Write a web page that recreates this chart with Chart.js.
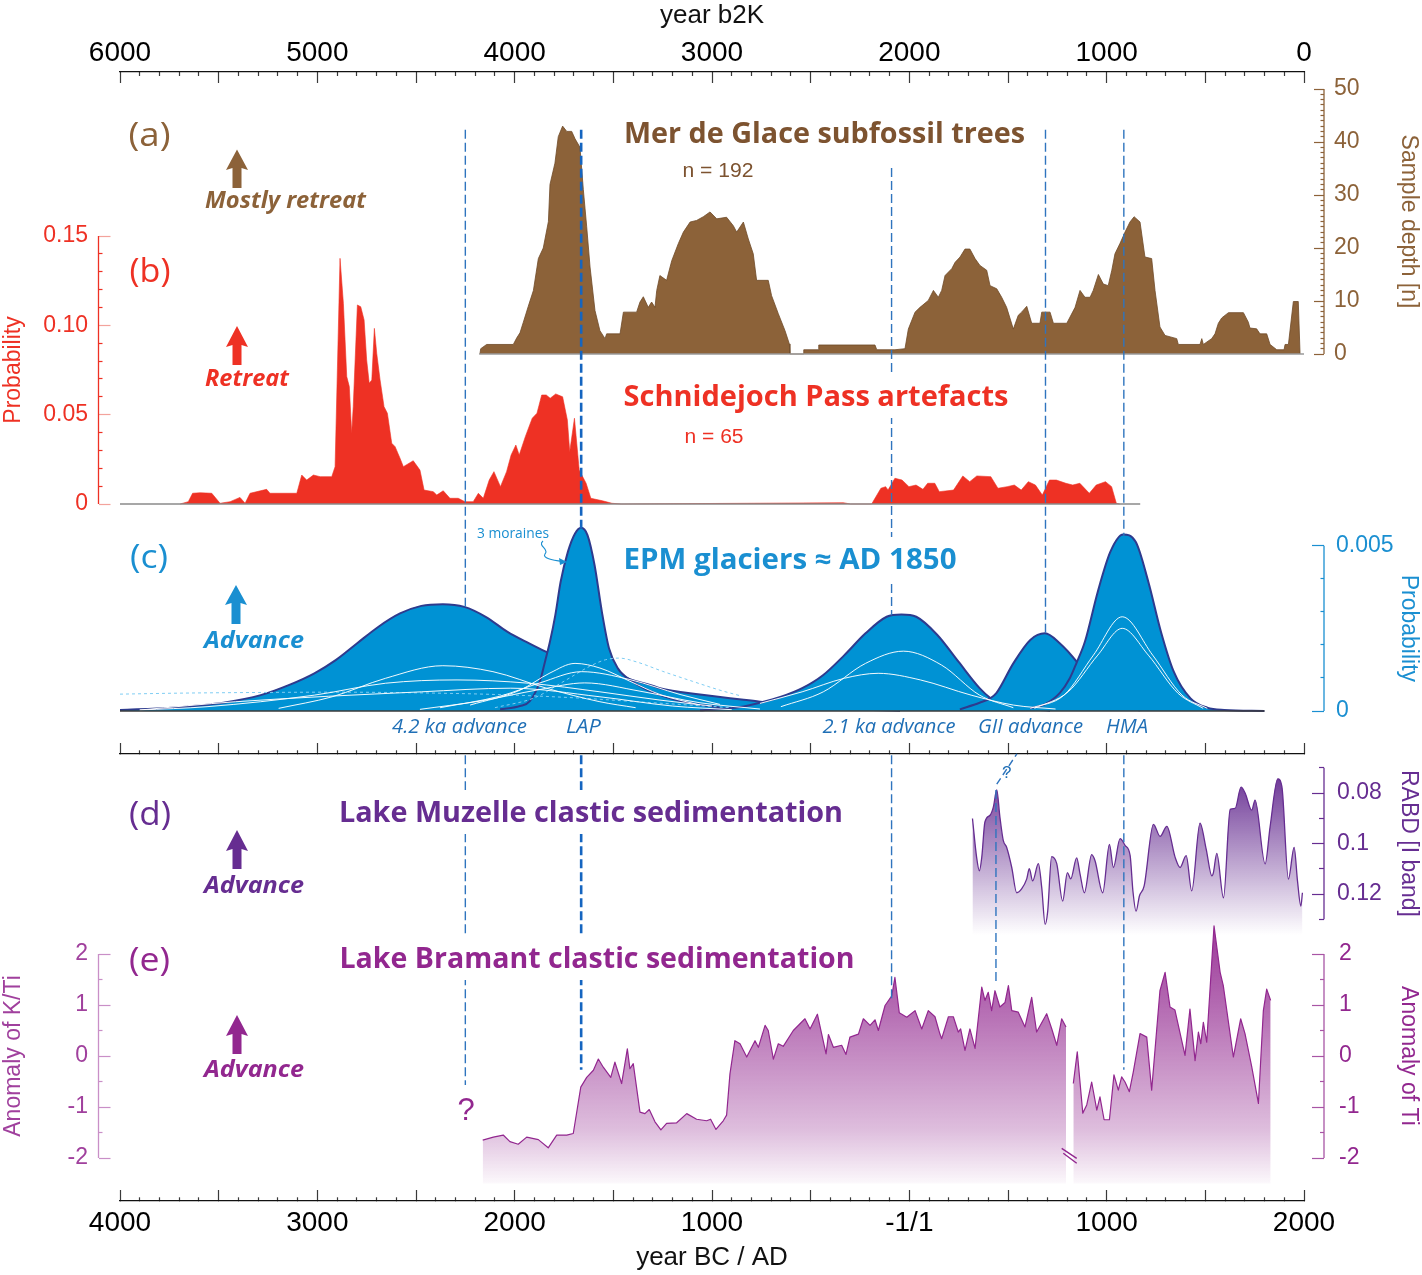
<!DOCTYPE html>
<html><head><meta charset="utf-8"><title>Glacier records</title>
<script src="https://cdn.jsdelivr.net/npm/chart.js@4.4.1/dist/chart.umd.min.js"></script>
<style>
html,body{margin:0;padding:0;background:#fff;}
#wrap{position:relative;width:1422px;height:1275px;overflow:hidden;background:#fff;}
#wrap canvas{position:absolute;left:0;top:0;}
</style></head>
<body><div id="wrap">
<canvas id="cFrame" width="1422" height="1275"></canvas>
<canvas id="cMid" width="1422" height="1275"></canvas>
<canvas id="cA" width="1422" height="1275"></canvas>
<canvas id="cB" width="1422" height="1275"></canvas>
<canvas id="cD" width="1422" height="1275"></canvas>
<canvas id="cE" width="1422" height="1275"></canvas>
<canvas id="cC" width="1422" height="1275"></canvas>
<canvas id="cG" width="1422" height="1275"></canvas>
</div>
<script>
// ================= DATA (years BC/AD, negative = BC) =================
// (a) Mer de Glace subfossil trees: sample depth
const merYears = [-2176,-2172,-2142,-2007,-1990,-1973,-1956,-1931,-1905,-1880,-1855,-1829,-1821,-1796,-1779,-1757,-1736,-1711,-1694,-1669,-1652,-1635,-1618,-1593,-1568,-1542,-1534,-1466,-1449,-1382,-1365,-1348,-1323,-1306,-1289,-1280,-1264,-1230,-1204,-1171,-1145,-1111,-1078,-1044,-1010,-976,-926,-892,-875,-841,-816,-791,-774,-715,-698,-664,-630,-608,-605,-537,-535,-461,-459,-174,-165,-73,-22,-5,29,54,96,122,147,164,181,215,232,257,282,307,333,358,392,409,443,468,493,527,552,569,595,620,662,671,713,730,798,840,865,890,916,932,958,983,1008,1026,1042,1068,1093,1118,1139,1169,1194,1228,1245,1270,1296,1355,1363,1473,1482,1490,1532,1549,1566,1583,1617,1693,1718,1726,1760,1777,1811,1828,1862,1899,1904,1921,1946,1971,1980];
const merDepth = [0,1,1.8,1.8,3,4,6,9,12,18,20,25,32,36,41,43,42,42,40.6,39,31,24,16.4,8.2,4.4,2.9,3.8,3.8,7.9,7.9,9.8,10.8,8.8,9.8,8.8,12,14.8,13.9,17.6,20.8,23,24.9,25.2,25.9,26.8,25.5,25.8,24.2,23,24.9,21.7,18.9,13.9,13.9,11,7.6,4.4,1.9,0,0,0.8,0.8,1.7,1.7,0.8,0.8,1,4.7,7.9,8.8,10.1,12,10.7,12,14.8,16.1,17.3,18.3,19.8,19.8,18,16.7,15.8,12.9,12.3,10.7,8.8,4.7,7.3,7.9,9,5.8,5.8,7.9,7.9,5.8,5.8,8.8,12,10.7,10.7,12,15,13.2,12.9,15.8,18.9,20.9,23,24.9,25.9,24.9,18.3,18,12,5.1,3.5,2.9,1.8,1.8,2.9,1.8,2.9,3.8,5.8,6.8,7.8,7.8,6,4.9,4.75,3.8,3.8,1.8,0.8,0.8,1.8,1.8,9.9,9.9,0];

// (b) Schnidejoch Pass artefacts: summed probability
const schYears = [-3695,-3654,-3632,-3594,-3535,-3493,-3442,-3392,-3366,-3341,-3257,-3240,-3104,-3079,-3054,-3020,-2986,-2927,-2910,-2885,-2868,-2851,-2838,-2826,-2818,-2797,-2780,-2763,-2750,-2737,-2724,-2711,-2699,-2682,-2662,-2645,-2623,-2606,-2581,-2564,-2514,-2480,-2459,-2412,-2395,-2362,-2328,-2286,-2252,-2210,-2184,-2159,-2129,-2105,-2072,-2041,-2018,-1994,-1977,-1946,-1911,-1887,-1863,-1840,-1820,-1792,-1757,-1733,-1721,-1697,-1673,-1638,-1614,-1555,-1507,-1460,-334,-298,-191,-144,-120,-108,-73,-37,-2,34,69,93,129,152,224,271,306,342,413,449,496,532,567,603,639,674,710,745,793,828,864,912,947,994,1025,1049,1066];
const schProb = [0,0.0013,0.006,0.0063,0.006,0.0004,0.0013,0.0037,0.0004,0.006,0.0082,0.006,0.006,0.0162,0.0134,0.0162,0.0153,0.0153,0.0209,0.1375,0.1123,0.0713,0.0657,0.0396,0.0545,0.1114,0.1104,0.103,0.0806,0.0676,0.0694,0.0983,0.0843,0.0694,0.0545,0.0508,0.034,0.0321,0.0256,0.0209,0.0242,0.019,0.0078,0.0069,0.005,0.0074,0.0032,0.0032,0.0013,0.0013,0.006,0.0032,0.0134,0.0181,0.0097,0.0181,0.0274,0.033,0.0274,0.0377,0.048,0.0508,0.061,0.061,0.0592,0.0616,0.06,0.047,0.0293,0.048,0.019,0.0116,0.0032,0.0018,0.0004,0,0.0007,0,0,0.0088,0.0097,0.0078,0.0144,0.0134,0.0097,0.0106,0.0082,0.0116,0.0116,0.0069,0.0078,0.0157,0.0125,0.0157,0.0153,0.0088,0.0097,0.0106,0.0078,0.0125,0.0106,0.005,0.0134,0.0134,0.0116,0.0106,0.0116,0.006,0.0106,0.0125,0.0097,0.0004,0];

// (c) EPM glaciers: grouped probability envelopes
const g42Years = [-4000,-3740,-3468,-3287,-3142,-3015,-2907,-2798,-2690,-2581,-2473,-2364,-2255,-2147,-2038,-1929,-1848,-1745,-1618,-1477,-1405,-1314,-1264,-1061,-757,-554,-301,-47];
const g42Prob = [0.00003,0.0001,0.00026,0.00048,0.00079,0.00114,0.00154,0.00205,0.00255,0.00295,0.00318,0.00323,0.00315,0.00285,0.0024,0.00205,0.00181,0.00155,0.0013,0.0011,0.00094,0.00079,0.00069,0.0005,0.00028,0.00014,0.00005,0.00001];
const gLapYears = [-2074,-1973,-1923,-1872,-1846,-1821,-1794,-1767,-1730,-1694,-1663,-1631,-1595,-1558,-1522,-1477,-1405,-1314,-1162,-960];
const gLapProb = [0.00005,0.00015,0.0003,0.0009,0.0015,0.0021,0.0029,0.00391,0.00482,0.00537,0.00554,0.00532,0.00441,0.003,0.0019,0.00129,0.0009,0.0006,0.0003,0.0001];
const g21Years = [-1061,-858,-757,-650,-543,-436,-329,-222,-115,-40,35,142,249,356,409,459,561,713];
const g21Prob = [0.00002,0.00012,0.00025,0.00043,0.00069,0.00109,0.00169,0.00235,0.00285,0.00292,0.00285,0.0023,0.00149,0.00069,0.0004,0.00025,0.00008,0.00001];
const gGIIYears = [256,356,409,441,527,613,687,762,848,916,992,1068,1169];
const gGIIProb = [0.00005,0.00025,0.00038,0.00054,0.00144,0.00215,0.00235,0.00205,0.00149,0.0009,0.0004,0.00012,0.00002];
const gHMAYears = [612,686,763,814,847,890,955,1019,1083,1147,1211,1275,1340,1425,1510,1596,1799];
const gHMAProb = [0.00008,0.0002,0.00055,0.001,0.00145,0.0021,0.00361,0.00482,0.00534,0.00512,0.00391,0.0024,0.00119,0.00038,0.0001,0.00003,0];
// (c) individual moraine ages (white) and dotted ones
const wAYears = [-3196,-2925,-2654,-2364,-2110,-1839,-1568,-1387];
const wAProb = [0.00008,0.00043,0.00099,0.00137,0.00119,0.00069,0.00028,0.0001];
const wBYears = [-3900,-3559,-3015,-2654,-2292,-1929,-1568,-1264,-1000];
const wBProb = [0.00003,0.00013,0.00048,0.00084,0.00094,0.00084,0.00058,0.00033,0.00015];
const wCYears = [-3900,-3414,-2473,-2020,-1568,-1200,-900];
const wCProb = [0.00003,0.00028,0.00058,0.00069,0.00043,0.00015,0.00004];
const wDYears = [-2226,-1973,-1821,-1694,-1568,-1416,-1264,-1061];
const wDProb = [0.00018,0.00063,0.00115,0.00144,0.0013,0.0009,0.0005,0.00018];
const wEYears = [-2378,-2074,-1872,-1660,-1416,-1162,-960];
const wEProb = [0.0001,0.00045,0.00085,0.00119,0.00095,0.0005,0.0002];
const wFYears = [-2480,-2176,-1872,-1645,-1365,-1061,-757];
const wFProb = [0.00005,0.0003,0.00065,0.00085,0.0006,0.00025,0.00006];
const wGYears = [-651,-436,-222,-30,163,356,527];
const wGProb = [0.00013,0.00058,0.00144,0.00181,0.00139,0.00048,0.0001];
const wHYears = [-757,-543,-329,-158,56,313,527,741];
const wHProb = [0.00023,0.00058,0.00099,0.00114,0.00094,0.00048,0.00018,0.00006];
const wIYears = [613,784,933,1079,1233,1382,1510];
const wIProb = [0.00008,0.00048,0.00169,0.00285,0.00169,0.00048,0.00008];
const wJYears = [634,805,955,1079,1211,1361,1489];
const wJProb = [0.00008,0.00058,0.00169,0.0025,0.00169,0.00054,0.00008];
const dot1Years = [-4000,-3700,-3300,-2900,-2500,-2100,-1700,-1300,-900];
const dot1Prob = [0.00051,0.00054,0.00056,0.00057,0.00055,0.0005,0.0004,0.00025,0.0001];
const dot2Years = [-2100,-1900,-1750,-1620,-1540,-1470,-1380,-1250,-1100,-960,-850];
const dot2Prob = [0.0001,0.0004,0.0009,0.00135,0.00155,0.0016,0.00148,0.0012,0.0009,0.00063,0.00045];

// (d) Lake Muzelle RABD
const muzYears = [320,341,355,367,383,409,426,443,459,476,493,519,544,569,595,608,625,654,671,688,701,721,747,777,801,818,848,865,887,924,941,980,1014,1034,1068,1094,1119,1133,1149,1166,1190,1237,1271,1305,1347,1372,1403,1431,1473,1504,1533,1541,1558,1592,1626,1651,1681,1702,1735,1752,1803,1828,1867,1888,1921,1950,1967,1984,1992];
const muzRabd = [0.0901,0.1055,0.1108,0.1055,0.0915,0.0888,0.0855,0.0788,0.0895,0.0988,0.1015,0.1095,0.1195,0.118,0.114,0.110,0.1148,0.108,0.1175,0.132,0.127,0.1052,0.108,0.1228,0.1115,0.114,0.1057,0.112,0.1195,0.1044,0.1068,0.1195,0.1004,0.1095,0.0981,0.1008,0.1048,0.1188,0.1268,0.1208,0.1168,0.0924,0.0972,0.0932,0.1055,0.1095,0.1048,0.1188,0.0919,0.1021,0.1128,0.1115,0.1039,0.1215,0.0865,0.0861,0.0777,0.0801,0.0868,0.0828,0.1081,0.0935,0.0744,0.0775,0.1141,0.1015,0.1148,0.1248,0.1195];

// (e) Lake Bramant K/Ti anomaly (older part) and Ti anomaly (recent part)
const braYears1 = [-2162,-2108,-2058,-2024,-1982,-1939,-1880,-1830,-1787,-1736,-1703,-1665,-1635,-1601,-1576,-1551,-1513,-1492,-1458,-1429,-1416,-1399,-1365,-1340,-1318,-1289,-1259,-1230,-1179,-1128,-1078,-1027,-1007,-980,-943,-926,-909,-884,-858,-824,-782,-765,-731,-715,-689,-664,-639,-588,-529,-503,-466,-444,-422,-410,-385,-343,-321,-301,-258,-233,-199,-174,-157,-123,-89,-73,-51,-13,29,63,96,130,155,164,198,223,248,260,282,307,333,367,383,400,417,434,459,485,502,519,552,586,620,645,696,722,747,772,794];
const braAnom1 = [-1.65,-1.59,-1.55,-1.68,-1.73,-1.59,-1.64,-1.80,-1.55,-1.55,-1.52,-0.61,-0.42,-0.28,-0.06,-0.22,-0.42,-0.12,-0.54,0.14,-0.25,-0.15,-1.10,-1.13,-1.05,-1.29,-1.45,-1.32,-1.31,-1.13,-1.24,-1.27,-1.24,-1.44,-1.27,-1.16,-0.35,0.30,0.24,-0.02,0.30,0.17,0.60,0.50,-0.06,0.24,0.19,0.50,0.73,0.53,0.82,0.43,0.04,0.42,0.17,0.21,0.03,0.37,0.43,0.73,0.60,0.71,0.50,0.99,1.18,1.54,0.85,0.76,0.89,0.53,0.89,0.77,0.43,0.34,0.77,0.77,0.47,0.53,0.11,0.53,0.15,1.35,1.09,1.25,0.89,1.28,0.96,1.05,1.38,0.89,0.86,0.57,1.15,0.47,0.83,0.53,0.21,0.73,0.57];
const braYears2 = [831,851,879,899,924,950,966,987,1014,1037,1059,1076,1093,1115,1135,1169,1203,1228,1270,1296,1321,1346,1397,1422,1448,1465,1477,1490,1507,1544,1575,1591,1642,1679,1701,1735,1769,1794,1811,1831];
const braAnom2 = [-0.54,0.08,-1.12,-0.96,-0.51,-1.06,-0.80,-1.25,-1.25,-0.37,-0.67,-0.41,-0.51,-0.70,-0.31,0.44,0.37,-0.67,1.28,1.64,0.96,0.90,0.01,0.92,-0.09,0.47,0.24,0.66,0.27,2.55,1.64,1.38,-0.02,0.73,0.44,-0.21,-0.93,0.89,1.31,1.09];

// event lines (years) and their vertical reach, in panel value units
const EVENTS = [
  {name:'4.2 ka', year:-2250, heavy:false, segs:[['a',42.3,'c',0.00315],['d',0.065,'e',-0.57]]},
  {name:'LAP',    year:-1663, heavy:true,  segs:[['a',42.3,'c',0.0055],['d',0.065,'e',-0.27]]},
  {name:'2.1 ka', year:-90,   heavy:false, segs:[['a',35.1,'c',0.0029],['d',0.065,'e',1.1]]},
  {name:'GII',    year:690,   heavy:false, segs:[['a',42.3,'c',0.00235]]},
  {name:'HMA',    year:1087,  heavy:false, segs:[['a',42.3,'c',0.0053],['d',0.065,'e',-0.27]]},
  {name:'?',      year:439,   heavy:false, segs:[['d',0.0788,'e',1.4]]}
];
const SLANT = [[443,'d',0.0765],[545,'d',0.0645]];

// ================= LAYOUT =================
Chart.defaults.font.family = "'Liberation Sans', Arial, sans-serif";
const W = 1422, H = 1275;
const GEOM = {x0px:120, x1px:1304, yr0:-4000, yr1:2000, areaL:98.5, areaR:1324};
const PPY = (GEOM.x1px - GEOM.x0px) / (GEOM.yr1 - GEOM.yr0);
const XMIN = GEOM.yr0 - (GEOM.x0px - GEOM.areaL) / PPY;
const XMAX = GEOM.yr1 + (GEOM.areaR - GEOM.x1px) / PPY;
const PANEL = {
  a:{v0:0, p0:354, v1:50, p1:89, top:80, bottom:363},
  b:{v0:0, p0:504, v1:0.15, p1:236, top:226, bottom:514},
  c:{v0:0, p0:711, v1:0.005, p1:545.7, top:518, bottom:738.7},
  d:{v0:0.08, p0:793, v1:0.12, p1:894, top:752, bottom:935},
  e:{v0:-2, p0:1158, v1:2, p1:954, top:915, bottom:1197}
};
const COL = {brown:'#8C6239', brownTxt:'#7D5330', red:'#EE3124', blue:'#1A8FD1', blueFill:'#0092D4', blueLine:'#2E3B8E', blueIt:'#1F6FB6', purple:'#662D91', mag:'#92278F', guide:'#2F74BE', guideHeavy:'#1565C0'};

function pts(xs, ys){ return xs.map((x,i)=>({x:x, y:ys[i]})); }
function steps(lo,hi,st){ const n=Math.round((hi-lo)/st); const a=[]; for(let i=0;i<=n;i++) a.push(+(lo+i*st).toFixed(6)); return a; }
function isMul(v,m){ const r=v/m; return Math.abs(r-Math.round(r))<1e-6; }
function span(a){ const k=(a.v1-a.v0)/(a.p1-a.p0); const vt=a.v0+(a.top-a.p0)*k, vb=a.v0+(a.bottom-a.p0)*k; return {min:Math.min(vt,vb), max:Math.max(vt,vb)}; }

const axisLinePlugin = {
  id:'axisLine',
  afterDraw(chart, args, opts){
    const ctx = chart.ctx;
    (opts.lines||[]).forEach(l=>{
      const s = chart.scales[l.scale];
      const x = s.position==='left' ? s.right : s.left;
      ctx.save(); ctx.strokeStyle=l.color; ctx.lineWidth=l.width||1.3;
      ctx.beginPath(); ctx.moveTo(x, s.getPixelForValue(l.from)); ctx.lineTo(x, s.getPixelForValue(l.to)); ctx.stroke();
      ctx.restore();
    });
  }
};

function yAxis(o){
  const left = o.pos==='left';
  return {
    type:'linear', position:o.pos, min:o.min, max:o.max, reverse:!!o.reverse,
    afterFit(s){ s.width = left ? GEOM.areaL : W - GEOM.areaR; },
    afterBuildTicks(s){ s.ticks = steps(o.lo,o.hi,o.step).map(v=>({value:v})); },
    border:{display:false},
    grid:{
      drawOnChartArea:false, drawTicks:true, tickLength:-o.majLen, tickWidth:1.2,
      tickColor:c=> isMul(c.tick.value,o.major) ? (o.majColor||o.color) : o.color,
      tickBorderDash:c=> isMul(c.tick.value,o.major) ? [] : (left ? [o.minLen, o.majLen-o.minLen] : [o.minLen, 100]),
      tickBorderDashOffset:c=> (left && !isMul(c.tick.value,o.major)) ? o.minLen : 0
    },
    ticks:{display:true, autoSkip:false, padding:o.pad, color:o.labelColor||o.color, font:{size:23},
      callback:v=> isMul(v,o.major) ? o.fmt(v) : ''},
    title:{display:true, text:o.title, color:o.titleColor||o.labelColor||o.color, font:{size:23}, padding:{top:0,bottom:0}}
  };
}

function baseOpts(padding, yScales, lines){
  return {
    animation:false, responsive:false, events:[],
    layout:{padding:padding},
    elements:{point:{radius:0, hoverRadius:0}, line:{borderJoinStyle:'round'}},
    plugins:{legend:{display:false}, tooltip:{enabled:false}, axisLine:{lines:lines}},
    scales:Object.assign({x:{type:'linear', display:false, min:XMIN, max:XMAX}}, yScales)
  };
}
const charts = {};

// ---------- frame (top b2K axis, bottom BC/AD axis) ----------
function xAxis(o){
  return {
    type:'linear', position:o.pos, min:o.min, max:o.max, reverse:!!o.reverse,
    afterFit(s){ s.height = o.height; },
    afterBuildTicks(s){ s.ticks = steps(o.min,o.max,100).map(v=>({value:v})); },
    border:{display:true, color:'#111', width:1.3},
    grid:{drawOnChartArea:false, drawTicks:true, tickLength:-11, tickWidth:1.2, tickColor:'#3a3a3a',
      tickBorderDash:c=> isMul(c.tick.value,500) ? [] : (o.pos==='top' ? [4,7] : [4,100]),
      tickBorderDashOffset:c=> (!isMul(c.tick.value,500) && o.pos==='top') ? 4 : 0},
    ticks:{display:!!o.fmt, autoSkip:false, maxRotation:0, minRotation:0, padding:o.pad||0, color:'#000', font:{size:28},
      callback:v=> (o.fmt && isMul(v,1000)) ? o.fmt(v) : ''},
    title:{display:!!o.title, text:o.title||'', color:'#111', font:{size:26}, padding:{top:0,bottom:2}}
  };
}
charts.frame = new Chart(document.getElementById('cFrame'), {
  type:'line', data:{datasets:[]},
  options:{animation:false, responsive:false, events:[],
    layout:{padding:{left:GEOM.x0px, right:W-GEOM.x1px, top:0, bottom:0}},
    plugins:{legend:{display:false}, tooltip:{enabled:false}},
    scales:{
      x:xAxis({pos:'bottom', min:-4000, max:2000, height:74, pad:16, title:'year BC / AD',
        fmt:v=> v===0 ? '-1/1' : String(Math.abs(v))}),
      x2:xAxis({pos:'top', min:0, max:6000, reverse:true, height:72, pad:13, title:'year b2K', fmt:v=>String(v)}),
      y:{display:false, min:0, max:1}
    }}
});
charts.mid = new Chart(document.getElementById('cMid'), {
  type:'line', data:{datasets:[]},
  options:{animation:false, responsive:false, events:[],
    layout:{padding:{left:GEOM.x0px, right:W-GEOM.x1px, top:600, bottom:H-754}},
    plugins:{legend:{display:false}, tooltip:{enabled:false}},
    scales:{ x:xAxis({pos:'bottom', min:-4000, max:2000, height:0}), y:{display:false, min:0, max:1} }}
});

// ---------- (a) ----------
(function(){
  const P = PANEL.a, r = span(P);
  charts.a = new Chart(document.getElementById('cA'), {
    type:'line',
    data:{datasets:[
      {data:pts([-2180,2000],[0,0]), borderColor:'#9a9a9a', borderWidth:1.5, fill:false},
      {data:pts(merYears, merDepth), borderColor:'#6E4A28', borderWidth:0.8, backgroundColor:COL.brown, fill:'origin', tension:0}
    ]},
    options:baseOpts({top:P.top, bottom:H-P.bottom, left:GEOM.areaL, right:0}, {
      y:yAxis({pos:'right', min:r.min, max:r.max, lo:0, hi:50, step:1, major:10, majLen:10, minLen:3.5, color:COL.brown, pad:20, fmt:v=>String(v), title:'Sample depth [n]'})
    }, [{scale:'y', from:0, to:50, color:COL.brown}]),
    plugins:[axisLinePlugin]
  });
})();

// ---------- (b) ----------
(function(){
  const P = PANEL.b, r = span(P);
  charts.b = new Chart(document.getElementById('cB'), {
    type:'line',
    data:{datasets:[
      {data:pts([-4000,1170],[0,0]), borderColor:'#8a8a8a', borderWidth:1.5, fill:false},
      {data:pts(schYears, schProb), borderColor:COL.red, borderWidth:0.6, backgroundColor:COL.red, fill:'origin', tension:0}
    ]},
    options:baseOpts({top:P.top, bottom:H-P.bottom, left:0, right:W-GEOM.areaR}, {
      y:yAxis({pos:'left', min:r.min, max:r.max, lo:0, hi:0.15, step:0.01, major:0.05, majLen:12, minLen:4, color:COL.red, majColor:'#F3A39C', pad:22.5,
        fmt:v=> v===0 ? '0' : v.toFixed(2), title:'Probability'})
    }, [{scale:'y', from:0, to:0.15, color:COL.red}]),
    plugins:[axisLinePlugin]
  });
})();

// ---------- (d) ----------
(function(){
  const P = PANEL.d, r = span(P);
  charts.d = new Chart(document.getElementById('cD'), {
    type:'line',
    data:{datasets:[
      {data:pts(muzYears, muzRabd), borderColor:COL.purple, borderWidth:1.3, cubicInterpolationMode:'monotone', fill:'start',
        backgroundColor:(c)=>{
          const ch=c.chart, ca=ch.chartArea; if(!ca) return 'rgba(102,45,145,0.4)';
          const g=ch.ctx.createLinearGradient(0,ca.top,0,ca.bottom);
          g.addColorStop(0,'rgba(102,45,145,1)'); g.addColorStop(0.13,'rgba(102,45,145,0.95)');
          g.addColorStop(0.56,'rgba(102,45,145,0.48)'); g.addColorStop(1,'rgba(102,45,145,0)');
          return g;
        }}
    ]},
    options:baseOpts({top:P.top, bottom:H-P.bottom, left:GEOM.areaL, right:0}, {
      y:yAxis({pos:'right', reverse:true, min:r.min, max:r.max, lo:0.07, hi:0.13, step:0.01, major:0.02, majLen:12, minLen:5, color:COL.purple, pad:25,
        fmt:v=> Math.abs(v-0.1)<1e-9 ? '0.1' : v.toFixed(2), title:'RABD [I band]'})
    }, [{scale:'y', from:0.07, to:0.13, color:COL.purple}]),
    plugins:[axisLinePlugin]
  });
})();

// ---------- (e) ----------
(function(){
  const P = PANEL.e, r = span(P);
  const FLOOR = -2.5;
  const grad = (c)=>{
    const ch=c.chart, ca=ch.chartArea; if(!ca) return 'rgba(146,39,143,0.4)';
    const yb = ch.scales.y.getPixelForValue(FLOOR);
    const g=ch.ctx.createLinearGradient(0,ca.top,0,yb);
    g.addColorStop(0,'rgba(146,39,143,0.95)'); g.addColorStop(0.32,'rgba(146,39,143,0.7)');
    g.addColorStop(0.8,'rgba(146,39,143,0.3)'); g.addColorStop(1,'rgba(146,39,143,0.03)');
    return g;
  };
  charts.e = new Chart(document.getElementById('cE'), {
    type:'line',
    data:{datasets:[
      {data:pts(braYears1, braAnom1), borderColor:COL.mag, borderWidth:1.2, tension:0, fill:{value:FLOOR}, backgroundColor:grad},
      {data:pts(braYears2, braAnom2), borderColor:COL.mag, borderWidth:1.2, tension:0, fill:{value:FLOOR}, backgroundColor:grad}
    ]},
    options:baseOpts({top:P.top, bottom:H-P.bottom, left:0, right:0}, {
      y:yAxis({pos:'left', min:r.min, max:r.max, lo:-2, hi:2, step:0.5, major:1, majLen:12, minLen:4, color:'#C98FC7', labelColor:'#A0409D', pad:22.5,
        fmt:v=>String(Math.round(v)), title:'Anomaly of K/Ti'}),
      y2:yAxis({pos:'right', min:r.min, max:r.max, lo:-2, hi:2, step:0.5, major:1, majLen:12, minLen:4, color:'#A855A5', labelColor:COL.mag, pad:27,
        fmt:v=>String(Math.round(v)), title:'Anomaly of Ti'})
    }, [{scale:'y', from:-2, to:2, color:'#C98FC7'}, {scale:'y2', from:-2, to:2, color:'#A855A5'}]),
    plugins:[axisLinePlugin]
  });
})();

// ---------- (c) ----------
(function(){
  const P = PANEL.c, r = span(P);
  const grp = (xs,ys)=>({data:pts(xs,ys), borderColor:COL.blueLine, borderWidth:2, backgroundColor:COL.blueFill, fill:'origin', cubicInterpolationMode:'monotone'});
  const wht = (xs,ys)=>({data:pts(xs,ys), borderColor:'rgba(255,255,255,0.95)', borderWidth:1, fill:false, cubicInterpolationMode:'monotone'});
  const dot = (xs,ys)=>({data:pts(xs,ys), borderColor:'#7FCDF3', borderWidth:1, borderDash:[3,3], fill:false, cubicInterpolationMode:'monotone'});
  charts.c = new Chart(document.getElementById('cC'), {
    type:'line',
    data:{datasets:[
      {data:pts([-4000,1800],[0,0]), borderColor:'#3a3a3a', borderWidth:1.6, fill:false},
      wht(wAYears,wAProb), wht(wBYears,wBProb), wht(wCYears,wCProb), wht(wDYears,wDProb), wht(wEYears,wEProb), wht(wFYears,wFProb),
      wht(wGYears,wGProb), wht(wHYears,wHProb), wht(wIYears,wIProb), wht(wJYears,wJProb),
      dot(dot1Years,dot1Prob), dot(dot2Years,dot2Prob),
      grp(gHMAYears,gHMAProb), grp(gGIIYears,gGIIProb), grp(g21Years,g21Prob), grp(gLapYears,gLapProb), grp(g42Years,g42Prob)
    ]},
    options:baseOpts({top:P.top, bottom:H-P.bottom, left:GEOM.areaL, right:0}, {
      y:yAxis({pos:'right', min:r.min, max:r.max, lo:0, hi:0.005, step:0.001, major:0.005, majLen:12, minLen:3.5, color:COL.blue, pad:24,
        fmt:v=> v===0 ? '0' : String(v), title:'Probability'})
    }, [{scale:'y', from:0, to:0.005, color:COL.blue}]),
    plugins:[axisLinePlugin]
  });
})();

// ---------- annotations & event lines ----------
const TEXTS = [
  {t:'(a)', x:149.5, y:146, w:42, size:32, color:COL.brown},
  {t:'(b)', x:150, y:282, w:41, size:32, color:COL.red},
  {t:'(c)', x:149, y:568, w:38, size:32, color:COL.blue},
  {t:'(d)', x:150, y:825, w:42, size:32, color:COL.purple},
  {t:'(e)', x:149.5, y:971, w:41, size:32, color:COL.mag},
  {t:'Mer de Glace subfossil trees', x:824.5, y:143, w:401, size:28, weight:700, color:COL.brownTxt, knock:true},
  {t:'n = 192', x:718, y:177, w:71, size:20, family:'Liberation Sans', color:COL.brownTxt},
  {t:'Mostly retreat', x:285.5, y:208, w:161, size:24, weight:700, style:'italic', color:COL.brown},
  {t:'Retreat', x:247, y:385.5, w:84, size:24, weight:700, style:'italic', color:COL.red},
  {t:'Schnidejoch Pass artefacts', x:816, y:406, w:385, size:28, weight:700, color:COL.red, knock:true},
  {t:'n = 65', x:714, y:443, w:59, size:20, family:'Liberation Sans', color:COL.red},
  {t:'EPM glaciers \u2248 AD 1850', x:790, y:569, w:333, size:28, weight:700, color:COL.blue, knock:true},
  {t:'3 moraines', x:513, y:538, w:72, size:14, color:COL.blue},
  {t:'Advance', x:254, y:648, w:100, size:24, weight:700, style:'italic', color:COL.blue},
  {t:'4.2 ka advance', x:459.5, y:733, w:135, size:20, style:'italic', color:COL.blueIt},
  {t:'LAP', x:583.4, y:733, w:35, size:20, style:'italic', color:COL.blueIt},
  {t:'2.1 ka advance', x:889, y:733, w:133, size:20, style:'italic', color:COL.blueIt},
  {t:'GII advance', x:1030.5, y:733, w:105, size:20, style:'italic', color:COL.blueIt},
  {t:'HMA', x:1127, y:733, w:42, size:20, style:'italic', color:COL.blueIt},
  {t:'Lake Muzelle clastic sedimentation', x:591, y:822, w:504, size:28, weight:700, color:COL.purple, knock:true},
  {t:'Advance', x:254, y:893, w:100, size:24, weight:700, style:'italic', color:COL.purple},
  {t:'Lake Bramant clastic sedimentation', x:597, y:968, w:515, size:28, weight:700, color:COL.mag, knock:true},
  {t:'Advance', x:254, y:1077, w:100, size:24, weight:700, style:'italic', color:COL.mag},
  {t:'?', x:466, y:1120, size:31, family:'Liberation Sans', color:COL.mag},
  {t:'?', x:1006.7, y:778, size:17, family:'Liberation Sans', color:COL.blueIt}
];
const ARROWS = [
  {x:237, tip:149.5, base:168, bottom:188, color:COL.brown},
  {x:237, tip:326, base:345, bottom:365, color:COL.red},
  {x:236, tip:585, base:603, bottom:624, color:COL.blue},
  {x:237, tip:830, base:849, bottom:869, color:COL.purple},
  {x:237, tip:1015, base:1034, bottom:1054, color:COL.mag}
];

function fontOf(o){ return (o.style||'normal')+' '+(o.weight||400)+' '+o.size+'px "'+(o.family||'Open Sans')+'"'; }

const annotPlugin = {
  id:'annot',
  afterDraw(chart){
    const ctx = chart.ctx;
    const X = yr => charts.a.scales.x.getPixelForValue(yr);
    const Y = (p,v) => charts[p].scales.y.getPixelForValue(v);
    // event lines
    EVENTS.forEach(ev=>{
      ctx.save();
      ctx.strokeStyle = ev.heavy ? COL.guideHeavy : COL.guide;
      ctx.lineWidth = ev.heavy ? 2.6 : 1.4;
      ctx.setLineDash([9,4]);
      const x = X(ev.year);
      ev.segs.forEach(s=>{ ctx.beginPath(); ctx.moveTo(x, Y(s[0],s[1])); ctx.lineTo(x, Y(s[2],s[3])); ctx.stroke(); });
      ctx.restore();
    });
    ctx.save(); ctx.strokeStyle=COL.guide; ctx.lineWidth=1.4; ctx.setLineDash([7,4]);
    ctx.beginPath(); ctx.moveTo(X(SLANT[0][0]), Y(SLANT[0][1],SLANT[0][2])); ctx.lineTo(X(SLANT[1][0]), Y(SLANT[1][1],SLANT[1][2])); ctx.stroke();
    ctx.restore();
    // arrows
    ARROWS.forEach(a=>{
      ctx.save(); ctx.fillStyle=a.color; ctx.beginPath();
      ctx.moveTo(a.x, a.tip); ctx.lineTo(a.x+11, a.base+2); ctx.lineTo(a.x+4.5, a.base); ctx.lineTo(a.x+4.5, a.bottom);
      ctx.lineTo(a.x-4.5, a.bottom); ctx.lineTo(a.x-4.5, a.base); ctx.lineTo(a.x-11, a.base+2); ctx.closePath(); ctx.fill();
      ctx.restore();
    });
    // "3 moraines" squiggle arrow
    ctx.save(); ctx.strokeStyle=COL.blue; ctx.fillStyle=COL.blue; ctx.lineWidth=1.1;
    ctx.beginPath(); ctx.moveTo(543,541); ctx.bezierCurveTo(537,546, 550,549, 545,554); ctx.bezierCurveTo(542,558, 552,560, 563,561.5); ctx.stroke();
    ctx.beginPath(); ctx.moveTo(567,562); ctx.lineTo(559,558); ctx.lineTo(560,565); ctx.closePath(); ctx.fill();
    ctx.restore();
    // break mark in (e)
    ctx.save(); ctx.strokeStyle=COL.mag; ctx.lineWidth=1.4;
    ctx.beginPath(); ctx.moveTo(1061.7,1148.3); ctx.lineTo(1076.7,1158.3); ctx.moveTo(1063.3,1153.3); ctx.lineTo(1076.7,1163.3); ctx.stroke();
    ctx.restore();
    // white knock-out boxes behind the panel titles (event lines stop at the titles)
    TEXTS.filter(o=>o.knock).forEach(o=>{
      ctx.save(); ctx.fillStyle='#fff';
      ctx.fillRect(o.x - o.w/2 - 6, o.y - o.size - 4, o.w + 12, o.size + 16);
      ctx.restore();
    });
    // texts
    TEXTS.forEach(o=>{
      ctx.save();
      ctx.font = fontOf(o);
      ctx.fillStyle = o.color; ctx.textAlign='center'; ctx.textBaseline='alphabetic';
      const m = ctx.measureText(o.t).width;
      const sx = o.w ? o.w/m : 1;
      ctx.translate(o.x, o.y); ctx.scale(sx,1); ctx.fillText(o.t,0,0);
      ctx.restore();
    });
  }
};
charts.g = new Chart(document.getElementById('cG'), {
  type:'line', data:{datasets:[]},
  options:{animation:false, responsive:false, events:[],
    plugins:{legend:{display:false}, tooltip:{enabled:false}},
    scales:{x:{type:'linear', display:false, min:XMIN, max:XMAX}, y:{display:false, min:0, max:1}}},
  plugins:[annotPlugin]
});
</script>
</body></html>
